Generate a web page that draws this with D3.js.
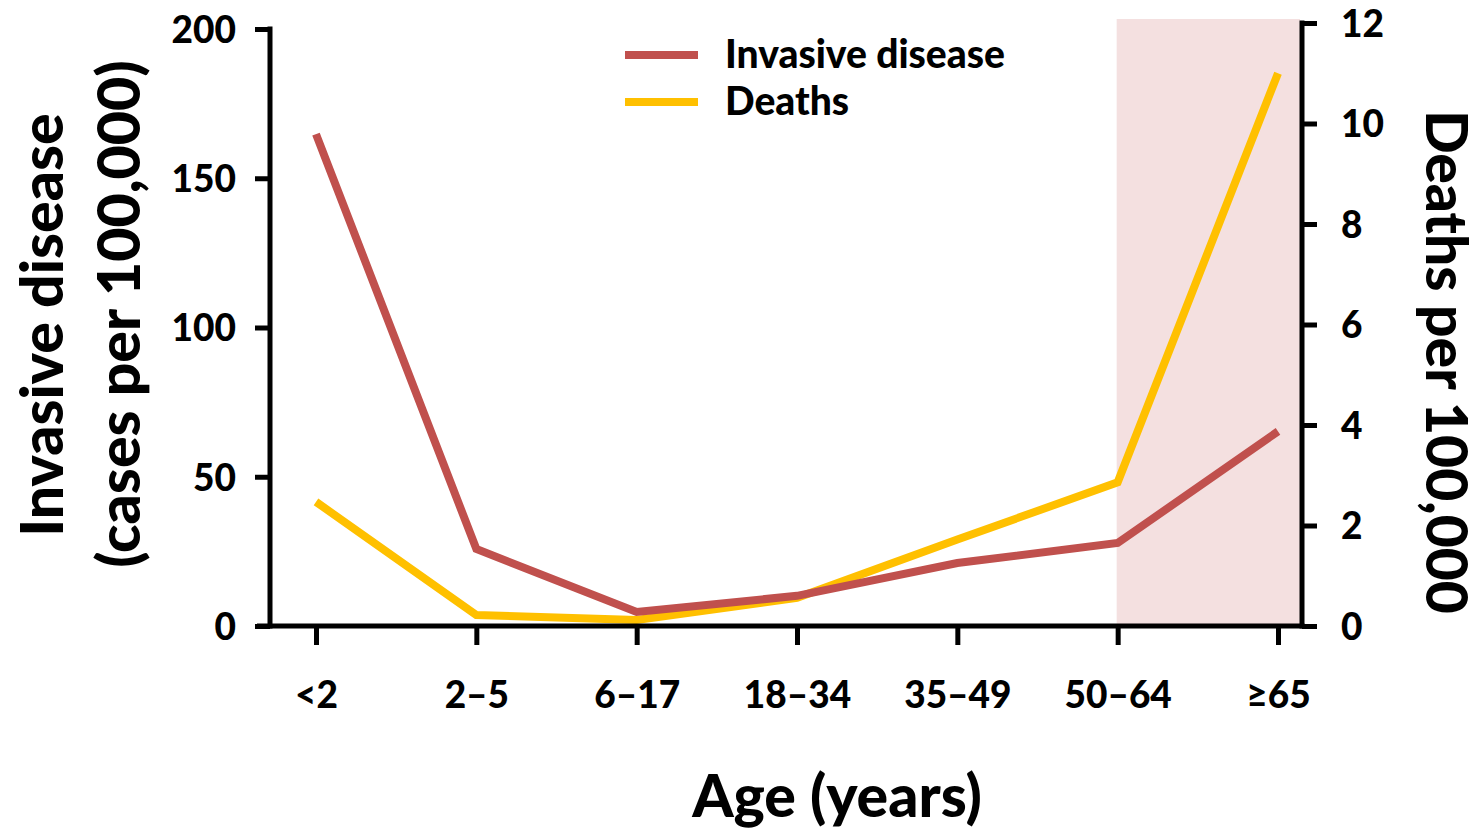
<!DOCTYPE html>
<html>
<head>
<meta charset="utf-8">
<script src="https://cdn.jsdelivr.net/npm/d3@7/dist/d3.min.js"></script>
<style>
  html, body { margin: 0; padding: 0; background: #ffffff; }
  svg { display: block; }
  text { font-family: Lato, "Open Sans", sans-serif; font-weight: 900; fill: #000; }
</style>
</head>
<body>
<svg id="chart" width="1482" height="830"></svg>
<script>
const categories = ["<2", "2\u20135", "6\u201317", "18\u201334", "35\u201349", "50\u201364", "\u226565"];
const invasiveDisease = [164.8, 25.8, 4.7, 10.1, 21.1, 27.8, 65.2];
const deaths = [2.47, 0.22, 0.12, 0.56, 1.72, 2.86, 11.0];
const leftTicks = [0, 50, 100, 150, 200];
const rightTicks = [0, 2, 4, 6, 8, 10, 12];
const highlightRange = ["50\u201364", "\u226565"];
const seriesNames = ["Invasive disease", "Deaths"];
const colors = { invasive: "#C0504D", deaths: "#FFC000" };

const svg = d3.select("#chart");
const xLeft = 270, xRight = 1302, yBottom = 626;

const x = d3.scalePoint().domain(categories).range([316, 1278]);
const yL = d3.scaleLinear().domain([0, 200]).range([yBottom, 29]);
const yR = d3.scaleLinear().domain([0, 12]).range([yBottom, 23]);

// highlighted band
svg.append("rect")
  .attr("x", x(highlightRange[0]) - 1)
  .attr("y", 19)
  .attr("width", xRight - x(highlightRange[0]) - 1)
  .attr("height", yBottom - 19)
  .attr("fill", "#f4e0e0");

// lines
const lineL = d3.line().x((d, i) => x(categories[i])).y(d => yL(d));
const lineR = d3.line().x((d, i) => x(categories[i])).y(d => yR(d));

svg.append("path").datum(deaths)
  .attr("d", lineR)
  .attr("fill", "none").attr("stroke", colors.deaths)
  .attr("stroke-width", 8).attr("stroke-linejoin", "miter");

svg.append("path").datum(invasiveDisease)
  .attr("d", lineL)
  .attr("fill", "none").attr("stroke", colors.invasive)
  .attr("stroke-width", 8).attr("stroke-linejoin", "miter");

// Left axis
const gL = svg.append("g").attr("transform", `translate(${xLeft},0)`)
  .call(d3.axisLeft(yL).tickValues(leftTicks).tickSize(15).tickPadding(19).tickFormat(d3.format("d")));
gL.select(".domain").remove();
gL.selectAll(".tick line").attr("stroke", "#000").attr("stroke-width", 5);
gL.selectAll(".tick text").style("font-size", "37px").attr("dy", "0.36em");
svg.append("line").attr("x1", xLeft).attr("x2", xLeft).attr("y1", yL(200) - 2.5).attr("y2", yBottom + 2.5)
  .attr("stroke", "#000").attr("stroke-width", 5);

// Right axis
const gR = svg.append("g").attr("transform", `translate(${xRight},0)`)
  .call(d3.axisRight(yR).tickValues(rightTicks).tickSize(15).tickPadding(24).tickFormat(d3.format("d")));
gR.select(".domain").remove();
gR.selectAll(".tick line").attr("stroke", "#000").attr("stroke-width", 5);
gR.selectAll(".tick text").style("font-size", "37px").attr("dy", "0.36em");
svg.append("line").attr("x1", xRight).attr("x2", xRight).attr("y1", yR(12) - 2.5).attr("y2", yBottom + 2.5)
  .attr("stroke", "#000").attr("stroke-width", 5);

// X axis
const gX = svg.append("g").attr("transform", `translate(0,${yBottom})`)
  .call(d3.axisBottom(x).tickSize(19).tickPadding(37));
gX.select(".domain").remove();
gX.selectAll(".tick line").attr("stroke", "#000").attr("stroke-width", 5);
gX.selectAll(".tick text").style("font-size", "37px").attr("dy", "0.71em");
svg.append("line").attr("x1", 257).attr("x2", xRight + 2.5).attr("y1", yBottom).attr("y2", yBottom)
  .attr("stroke", "#000").attr("stroke-width", 5);

// Axis titles
svg.append("text")
  .attr("transform", "translate(63,325) rotate(-90)")
  .attr("text-anchor", "middle").style("font-size", "59px")
  .text("Invasive disease");
svg.append("text")
  .attr("transform", "translate(140,314) rotate(-90)")
  .attr("text-anchor", "middle").style("font-size", "59px")
  .text("(cases per 100,000)");
svg.append("text")
  .attr("transform", "translate(1426,362) rotate(90)")
  .attr("text-anchor", "middle").style("font-size", "57px")
  .text("Deaths per 100,000");
svg.append("text")
  .attr("x", 837).attr("y", 817)
  .attr("text-anchor", "middle").style("font-size", "59px")
  .text("Age (years)");

// Legend
const legend = svg.append("g");
[{ name: seriesNames[0], color: colors.invasive, y: 55 }, { name: seriesNames[1], color: colors.deaths, y: 102 }]
  .forEach(item => {
    legend.append("line").attr("x1", 625).attr("x2", 698).attr("y1", item.y).attr("y2", item.y)
      .attr("stroke", item.color).attr("stroke-width", 8);
    legend.append("text").attr("x", 725).attr("y", item.y).attr("dy", "0.34em")
      .style("font-size", "39px").text(item.name);
  });
</script>
</body>
</html>
